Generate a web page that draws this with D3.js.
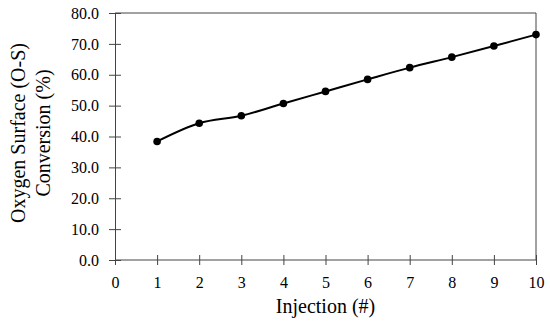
<!DOCTYPE html>
<html>
<head>
<meta charset="utf-8">
<script src="https://cdn.jsdelivr.net/npm/d3@7"></script>
<style>
  body { margin: 0; background: #fff; }
  svg text { font-family: "Liberation Serif", "Times New Roman", serif; fill: #000; }
  .axis path, .axis line { stroke: #444; stroke-width: 1; }
</style>
</head>
<body>
<div id="chart"></div>
<script>
// data
const injections = [1, 2, 3, 4, 5, 6, 7, 8, 9, 10];
const conversion = [38.4, 44.3, 46.7, 50.7, 54.6, 58.5, 62.3, 65.7, 69.3, 73.0];
const xTicks = [0, 1, 2, 3, 4, 5, 6, 7, 8, 9, 10];
const yTicks = [0, 10, 20, 30, 40, 50, 60, 70, 80];

const width = 550, height = 325;
const margin = { top: 13, right: 14, bottom: 65, left: 115 };
const innerW = width - margin.left - margin.right;
const innerH = height - margin.top - margin.bottom;

const svg = d3.select("#chart").append("svg")
  .attr("width", width)
  .attr("height", height);

const chart = svg.append("g")
  .attr("transform", `translate(${margin.left},${margin.top})`);

const xScale = d3.scaleLinear().domain([0, 10]).range([0, innerW]);
const yScale = d3.scaleLinear().domain([0, 80]).range([innerH, 0]);

// plot frame (top + right)
chart.append("path")
  .attr("d", `M0,0H${innerW}V${innerH}`)
  .attr("fill", "none")
  .attr("stroke", "#444")
  .attr("stroke-width", 1);

// y axis with crossing ticks
const yAxisG = chart.append("g").attr("class", "axis y-axis")
  .call(d3.axisLeft(yScale).tickValues(yTicks).tickFormat(d3.format(".1f")).tickSize(6).tickSizeOuter(0));
yAxisG.selectAll(".tick line").attr("x1", 6);
yAxisG.selectAll(".tick text")
  .attr("x", -16)
  .style("font-size", "16px")
  .style("font-family", "'Liberation Serif', serif");

// x axis with crossing ticks
const xAxisG = chart.append("g").attr("class", "axis x-axis")
  .attr("transform", `translate(0,${innerH})`)
  .call(d3.axisBottom(xScale).tickValues(xTicks).tickSize(5).tickSizeOuter(0));
xAxisG.selectAll(".tick line").attr("y1", -5);
xAxisG.selectAll(".tick text")
  .attr("y", 17)
  .style("font-size", "16px")
  .style("font-family", "'Liberation Serif', serif");
xAxisG.select(".domain").attr("d", `M0,0H${innerW}`);

// line + markers
const points = injections.map((x, i) => ({ x, y: conversion[i] }));

const line = d3.line()
  .x(d => xScale(d.x))
  .y(d => yScale(d.y))
  .curve(d3.curveCatmullRom.alpha(0.5));

chart.append("path")
  .datum(points)
  .attr("fill", "none")
  .attr("stroke", "#000")
  .attr("stroke-width", 2)
  .attr("d", line);

chart.selectAll("circle.pt")
  .data(points)
  .enter().append("circle")
  .attr("class", "pt")
  .attr("cx", d => xScale(d.x))
  .attr("cy", d => yScale(d.y))
  .attr("r", 3.8)
  .attr("fill", "#000");

// axis titles
svg.append("text")
  .attr("x", margin.left + innerW / 2)
  .attr("y", 313)
  .attr("text-anchor", "middle")
  .style("font-size", "20px")
  .text("Injection (#)");

const yTitle = svg.append("text")
  .attr("transform", "translate(0,133) rotate(-90)")
  .attr("text-anchor", "middle")
  .style("font-size", "20px");
yTitle.append("tspan").attr("x", 0).attr("y", 25).text("Oxygen Surface (O-S)");
yTitle.append("tspan").attr("x", 0).attr("y", 50).text("Conversion (%)");
</script>
</body>
</html>
